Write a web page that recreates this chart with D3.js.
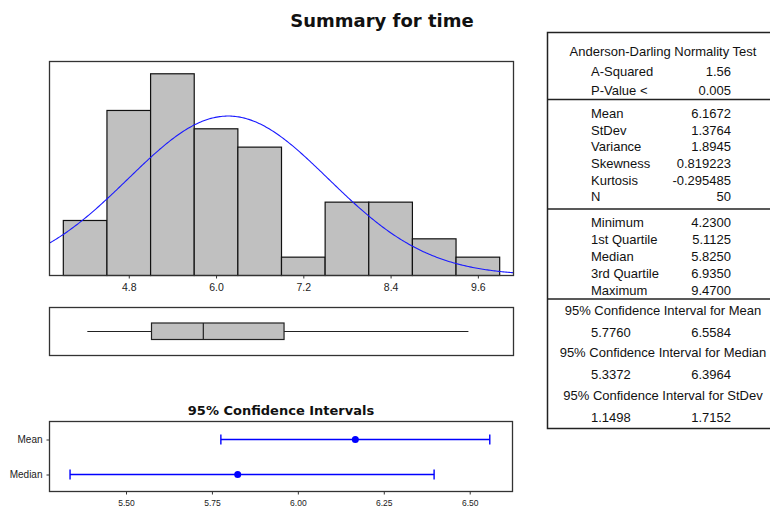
<!DOCTYPE html>
<html>
<head>
<meta charset="utf-8">
<script src="https://cdn.jsdelivr.net/npm/d3@7"></script>
<style>
  body { margin: 0; background: #fff; }
  svg { display: block; }
  .tick text { fill: #222; font-family: "Liberation Sans", Arial, sans-serif; }
  .tick line { stroke: #333; }
  .tbl { font-family: "Liberation Sans", Arial, sans-serif; font-size: 13px; fill: #111; }
</style>
</head>
<body>
<div class="chart"></div>
<script>
// Summary for time - histogram, boxplot, CI plot and stats table
var svgWidth = 770;
var svgHeight = 508;

// histogram data (bin midpoints and counts)
var binMids = [4.2, 4.8, 5.4, 6.0, 6.6, 7.2, 7.8, 8.4, 9.0, 9.6];
var binCounts = [3, 9, 11, 8, 7, 1, 4, 4, 2, 1];
var binWidth = 0.6;
var histTicks = [4.8, 6.0, 7.2, 8.4, 9.6];

// summary stats
var adLabels = ["A-Squared", "P-Value <"];
var adValues = ["1.56", "0.005"];
var momentLabels = ["Mean", "StDev", "Variance", "Skewness", "Kurtosis", "N"];
var momentValues = ["6.1672", "1.3764", "1.8945", "0.819223", "-0.295485", "50"];
var quartLabels = ["Minimum", "1st Quartile", "Median", "3rd Quartile", "Maximum"];
var quartValues = [4.23, 5.1125, 5.825, 6.935, 9.47];
var mean = 6.1672, stdev = 1.3764, n = 50;

// confidence intervals
var ciTitles = ["95% Confidence Interval for Mean", "95% Confidence Interval for Median", "95% Confidence Interval for StDev"];
var ciLow = [5.7760, 5.3372, 1.1498];
var ciHigh = [6.5584, 6.3964, 1.7152];
var ciNames = ["Mean", "Median"];
var ciPoints = [6.1672, 5.825];
var ciTicks = [5.50, 5.75, 6.00, 6.25, 6.50];

var svg = d3.select(".chart").append("svg")
  .attr("width", svgWidth)
  .attr("height", svgHeight);

// title
svg.append("text")
  .attr("x", 382)
  .attr("y", 26.5)
  .attr("text-anchor", "middle")
  .style("font-family", "'DejaVu Sans', Verdana, sans-serif")
  .style("font-weight", "bold")
  .style("font-size", "18px")
  .style("fill", "#111")
  .text("Summary for time");

// ---- histogram ----
var x = d3.scaleLinear().domain([3.71, 10.09]).range([49.5, 513.5]);
var y = d3.scaleLinear().domain([0, 11.67]).range([275.5, 61.5]);

var hist = svg.append("g");
hist.selectAll("rect")
  .data(binMids)
  .enter()
  .append("rect")
  .attr("x", function(d) { return x(d - binWidth / 2); })
  .attr("width", function(d) { return x(d + binWidth / 2) - x(d - binWidth / 2); })
  .attr("y", function(d, i) { return y(binCounts[i]); })
  .attr("height", function(d, i) { return y(0) - y(binCounts[i]); })
  .attr("fill", "#c0c0c0")
  .attr("stroke", "#111")
  .attr("stroke-width", 1.2);

// fitted normal curve from mean and stdev
var xs = d3.range(3.71, 10.09, 0.02).concat([10.09]);
var line = d3.line()
  .x(function(d) { return x(d); })
  .y(function(d) {
    var z = (d - mean) / stdev;
    return y(n * binWidth * Math.exp(-0.5 * z * z) / (stdev * Math.sqrt(2 * Math.PI)));
  });
hist.append("path")
  .datum(xs)
  .attr("d", line)
  .attr("fill", "none")
  .attr("stroke", "#1a1aff")
  .attr("stroke-width", 1.1);

hist.append("rect")
  .attr("x", 49.5).attr("y", 61.5)
  .attr("width", 464).attr("height", 214)
  .attr("fill", "none").attr("stroke", "#333").attr("stroke-width", 1.3);

var xAxis = hist.append("g")
  .attr("transform", "translate(0,275.5)")
  .call(d3.axisBottom(x).tickValues(histTicks).tickFormat(d3.format(".1f")).tickSize(3).tickPadding(5));
xAxis.select(".domain").remove();
xAxis.selectAll("text").style("font-size", "10.5px");

// ---- boxplot ----
var box = svg.append("g");
box.append("rect")
  .attr("x", 49.5).attr("y", 307.5)
  .attr("width", 464).attr("height", 48)
  .attr("fill", "none").attr("stroke", "#333").attr("stroke-width", 1.3);
box.append("line")
  .attr("x1", x(quartValues[0])).attr("x2", x(quartValues[1]))
  .attr("y1", 331.5).attr("y2", 331.5)
  .attr("stroke", "#222").attr("stroke-width", 1.2);
box.append("line")
  .attr("x1", x(quartValues[3])).attr("x2", x(quartValues[4]))
  .attr("y1", 331.5).attr("y2", 331.5)
  .attr("stroke", "#222").attr("stroke-width", 1.2);
box.append("rect")
  .attr("x", x(quartValues[1])).attr("y", 323)
  .attr("width", x(quartValues[3]) - x(quartValues[1])).attr("height", 16.5)
  .attr("fill", "#c0c0c0").attr("stroke", "#222").attr("stroke-width", 1.2);
box.append("line")
  .attr("x1", x(quartValues[2])).attr("x2", x(quartValues[2]))
  .attr("y1", 323).attr("y2", 339.5)
  .attr("stroke", "#222").attr("stroke-width", 1.2);

// ---- confidence interval plot ----
var cx = d3.scaleLinear().domain([5.2774, 6.6245]).range([49.5, 512.5]);
var cy = d3.scalePoint().domain(ciNames).range([439.5, 474.5]);

var ci = svg.append("g");
ci.append("text")
  .attr("x", 281).attr("y", 414.5)
  .attr("text-anchor", "middle")
  .style("font-family", "'DejaVu Sans', Verdana, sans-serif")
  .style("font-weight", "bold")
  .style("font-size", "13px")
  .style("fill", "#111")
  .text("95% Confidence Intervals");

ci.append("rect")
  .attr("x", 49.5).attr("y", 421.5)
  .attr("width", 463).attr("height", 70)
  .attr("fill", "none").attr("stroke", "#333").attr("stroke-width", 1.3);

ciNames.forEach(function(name, i) {
  var yy = cy(name);
  ci.append("line")
    .attr("x1", cx(ciLow[i])).attr("x2", cx(ciHigh[i]))
    .attr("y1", yy).attr("y2", yy)
    .attr("stroke", "#0000ff").attr("stroke-width", 1.4);
  [ciLow[i], ciHigh[i]].forEach(function(v) {
    ci.append("line")
      .attr("x1", cx(v)).attr("x2", cx(v))
      .attr("y1", yy - 5).attr("y2", yy + 5)
      .attr("stroke", "#0000ff").attr("stroke-width", 1.4);
  });
  ci.append("circle")
    .attr("cx", cx(ciPoints[i])).attr("cy", yy)
    .attr("r", 3.5).attr("fill", "#0000ff");
});

var ciX = ci.append("g")
  .attr("transform", "translate(0,491.5)")
  .call(d3.axisBottom(cx).tickValues(ciTicks).tickFormat(d3.format(".2f")).tickSize(3).tickPadding(5));
ciX.select(".domain").remove();
ciX.selectAll("text").style("font-size", "8.5px");

var ciY = ci.append("g")
  .attr("transform", "translate(49.5,0)")
  .call(d3.axisLeft(cy).tickSize(3).tickPadding(4));
ciY.select(".domain").remove();
ciY.selectAll("text").style("font-size", "10px");

// ---- stats table ----
var tbl = svg.append("g");
var tLeft = 547.5, tRight = 772, labX = 591, valX = 731, midX = 663;

tbl.append("rect")
  .attr("x", tLeft).attr("y", 32.5)
  .attr("width", tRight - tLeft).attr("height", 396)
  .attr("fill", "none").attr("stroke", "#222").attr("stroke-width", 1.5);
[99.5, 209, 299].forEach(function(yy) {
  tbl.append("line")
    .attr("x1", tLeft).attr("x2", tRight)
    .attr("y1", yy).attr("y2", yy)
    .attr("stroke", "#222").attr("stroke-width", 1.6);
});

function addText(t, xx, yy, anchor) {
  tbl.append("text")
    .attr("class", "tbl")
    .attr("x", xx).attr("y", yy)
    .attr("dy", "0.36em")
    .attr("text-anchor", anchor)
    .text(t);
}

addText("Anderson-Darling Normality Test", midX, 51.7, "middle");
adLabels.forEach(function(l, i) {
  addText(l, labX, 71.7 + i * 18.3, "start");
  addText(adValues[i], valX, 71.7 + i * 18.3, "end");
});
momentLabels.forEach(function(l, i) {
  addText(l, labX, 113.3 + i * 16.7, "start");
  addText(momentValues[i], valX, 113.3 + i * 16.7, "end");
});
quartLabels.forEach(function(l, i) {
  addText(l, labX, 222.7 + i * 16.8, "start");
  addText(d3.format(".4f")(quartValues[i]), valX, 222.7 + i * 16.8, "end");
});
ciTitles.forEach(function(t, i) {
  var yy = 310.3 + i * 42.3;
  addText(t, midX, yy, "middle");
  addText(d3.format(".4f")(ciLow[i]), labX, yy + 22, "start");
  addText(d3.format(".4f")(ciHigh[i]), valX, yy + 22, "end");
});
</script>
</body>
</html>
